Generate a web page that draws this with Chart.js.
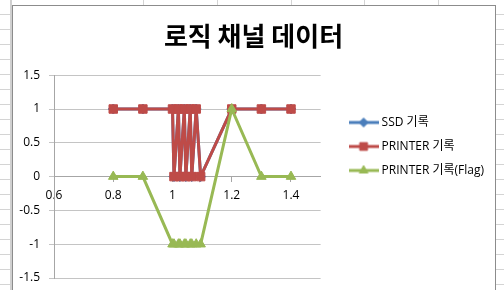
<!DOCTYPE html>
<html>
<head>
<meta charset="utf-8">
<script src="https://cdn.jsdelivr.net/npm/chart.js@4.4.1/dist/chart.umd.min.js"></script>
<style>
  html, body { margin: 0; padding: 0; background: #fff; }
  #wrap { width: 504px; height: 290px; }
</style>
</head>
<body>
<div id="wrap"><canvas id="chart"></canvas></div>
<script>
// values
const xValues = [0.8, 0.9, 1.0, 1.005, 1.02, 1.025, 1.04, 1.045, 1.06, 1.065, 1.08, 1.095, 1.2, 1.3, 1.4];
const ssdValues = [1, 1, 1, 0, 1, 0, 1, 0, 1, 0, 1, 0, 1, 1, 1];
const printerValues = [1, 1, 1, 0, 1, 0, 1, 0, 1, 0, 1, 0, 1, 1, 1];
const flagValues = [0, 0, -1, -1, -1, -1, -1, -1, -1, -1, -1, -1, 1, 0, 0];
const xTicks = [0.6, 0.8, 1, 1.2, 1.4];
const yTicks = [-1.5, -1, -0.5, 0, 0.5, 1, 1.5];
const seriesNames = ['SSD 기록', 'PRINTER 기록', 'PRINTER 기록(Flag)'];

const colors = ['#4A7EBB', '#BE4B48', '#98B954'];
const markers = ['rectRot', 'rect', 'triangle'];
const markerRadius = [5, 6, 5.5];
const FONT = "'Open Sans', 'Noto Sans CJK KR', sans-serif";

const toPoints = vals => xValues.map((x, i) => ({ x, y: vals[i] }));

// small line+marker picture for each legend entry
function legendSwatch(i) {
    const c = document.createElement('canvas');
    c.width = 30; c.height = 14;
    const ctx = c.getContext('2d');
    ctx.strokeStyle = colors[i];
    ctx.lineWidth = 3;
    ctx.beginPath(); ctx.moveTo(0, 7); ctx.lineTo(30, 7); ctx.stroke();
    ctx.fillStyle = colors[i];
    ctx.lineWidth = 1;
    Chart.helpers.drawPoint(ctx, { pointStyle: markers[i], radius: markerRadius[i] - 0.5, borderWidth: 1 }, 15, 7);
    return c;
}

// excel sheet behind the chart object
const sheet = {
    id: 'sheet',
    beforeDraw(chart) {
        const ctx = chart.ctx;
        ctx.save();
        ctx.fillStyle = '#fff';
        ctx.fillRect(0, 0, 504, 290);
        ctx.strokeStyle = '#d4d4d4';
        ctx.lineWidth = 1;
        ctx.beginPath();
        for (let y = 14; y < 290; y += 15) { ctx.moveTo(0, y + 0.5); ctx.lineTo(504, y + 0.5); }
        [143, 217, 291, 364, 438].forEach(x => { ctx.moveTo(x + 0.5, 0); ctx.lineTo(x + 0.5, 290); });
        ctx.stroke();
        ctx.fillStyle = '#d0d0d0';
        ctx.fillRect(10, 0, 2, 290);
        ctx.fillStyle = '#fff';
        ctx.fillRect(12, 5, 483, 290);
        ctx.strokeStyle = '#8c8c8c';
        ctx.strokeRect(12.5, 5.5, 483, 300);
        ctx.restore();
    }
};

// excel centres the title on the whole chart object and puts the legend a gap right of the plot
const placeBlocks = {
    id: 'placeBlocks',
    afterLayout(chart) {
        const t = chart.titleBlock;
        if (t) { t.left = 12; t.right = 495; }
        const lg = chart.legend;
        if (!lg) return;
        const w = lg.right - lg.left;
        lg.left = chart.chartArea.right + 19;
        lg.right = lg.left + w;
        lg.top += 5; lg.bottom += 5;
    }
};

const ctx = document.getElementById('chart').getContext('2d');
new Chart(ctx, {
    type: 'scatter',
    data: {
        datasets: [ssdValues, printerValues, flagValues].map((vals, i) => ({
            label: seriesNames[i],
            data: toPoints(vals),
            showLine: true,
            tension: 0,
            borderColor: colors[i],
            backgroundColor: colors[i],
            borderWidth: 3,
            pointStyle: markers[i],
            pointRadius: markerRadius[i],
            pointBorderWidth: 1,
            order: 3 - i
        }))
    },
    options: {
        responsive: true,
        maintainAspectRatio: false,
        animation: false,
        layout: { padding: { left: 12, top: 5, right: 29, bottom: 12 } },
        plugins: {
            title: {
                display: true,
                text: '로직 채널 데이터',
                color: '#000',
                font: { family: "'Noto Sans CJK KR', sans-serif", size: 26, weight: 'bold' },
                padding: { top: 16, bottom: 23 }
            },
            legend: {
                position: 'right',
                maxWidth: 220,
                labels: {
                    usePointStyle: true,
                    pointStyleWidth: 24,
                    padding: 12,
                    color: '#000',
                    font: { family: FONT, size: 12 },
                    generateLabels: chart => chart.data.datasets.map((ds, i) => ({
                        text: ds.label,
                        pointStyle: legendSwatch(i),
                        fillStyle: colors[i],
                        strokeStyle: colors[i],
                        lineWidth: 0,
                        datasetIndex: i
                    }))
                }
            },
            tooltip: { enabled: false }
        },
        scales: {
            x: {
                type: 'linear',
                position: { y: 0 },
                min: 0.6,
                max: 1.5,
                afterBuildTicks: s => { s.ticks = xTicks.map(v => ({ value: v })); },
                afterFit: s => { s.paddingTop = 0; s.paddingBottom = 0; },
                ticks: {
                    color: '#000',
                    font: { family: FONT, size: 12 },
                    padding: 7,
                    callback: v => String(v)
                },
                grid: { drawOnChartArea: false, drawTicks: true, tickLength: 5, color: '#a6a6a6' },
                border: { color: '#a6a6a6' }
            },
            y: {
                type: 'linear',
                min: -1.5,
                max: 1.5,
                afterBuildTicks: s => { s.ticks = yTicks.map(v => ({ value: v })); },
                afterFit: s => { s.width = 42; s.paddingBottom = 0; },
                ticks: {
                    color: '#000',
                    font: { family: FONT, size: 12 },
                    padding: 9,
                    callback: v => String(v)
                },
                grid: { color: '#c4c4c4', tickLength: 5 },
                border: { color: '#a6a6a6' }
            }
        }
    },
    plugins: [sheet, placeBlocks]
});
</script>
</body>
</html>
